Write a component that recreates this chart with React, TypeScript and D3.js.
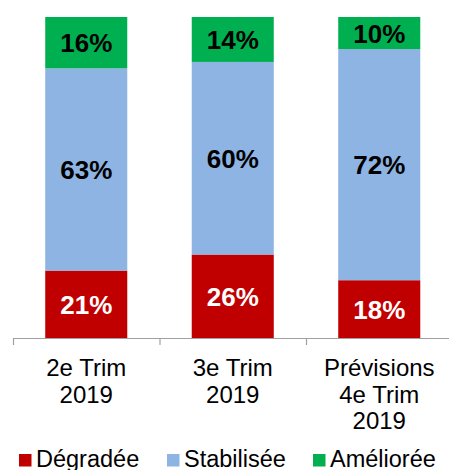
import React from "react";
import * as d3 from "d3";

const categories = [["2e Trim", "2019"], ["3e Trim", "2019"], ["Prévisions", "4e Trim", "2019"]];
const seriesNames = ["Dégradée", "Stabilisée", "Améliorée"];
const degradee = [21, 26, 18];
const stabilisee = [63, 60, 72];
const amelioree = [16, 14, 10];
const colors = ["#C00000", "#8EB4E3", "#00B050"];
const labelColors = ["#FFFFFF", "#000000", "#000000"];

const W = 449;
const H = 470;
const FONT = "'Liberation Sans', Arial, sans-serif";

export default function App() {
  const keys = categories.map((c, i) => String(i));
  const x = d3.scaleBand().domain(keys).range([13, 452.5]).paddingInner(0.44).paddingOuter(0.22);
  const y = d3.scaleLinear().domain([0, 100]).range([338, 17]);
  const rows = keys.map((k, i) => ({ key: k, d: degradee[i], s: stabilisee[i], a: amelioree[i] }));
  const stack = d3.stack<any>().keys(["d", "s", "a"])(rows);
  const step = x.step();
  const ticks = [0, 1, 2, 3].map((i) => 13 + i * step);
  const legendX = [19, 167, 313];

  return (
    <svg width={W} height={H} style={{ position: "absolute", left: 0, top: 0, fontFamily: FONT }}>
      <rect width={W} height={H} fill="#fff" />
      {stack.map((layer, li) => (
        <g key={li}>
          {layer.map((seg, i) => {
            const x0 = x(keys[i])!;
            const y0 = y(seg[1]);
            const y1 = y(seg[0]);
            return (
              <g key={i}>
                <rect x={x0} y={y0} width={x.bandwidth()} height={y1 - y0} fill={colors[li]} />
                <text
                  x={x0 + x.bandwidth() / 2}
                  y={(y0 + y1) / 2 + 9.5}
                  textAnchor="middle"
                  fontSize={26}
                  fontWeight="bold"
                  fill={labelColors[li]}
                >
                  {seg[1] - seg[0]}%
                </text>
              </g>
            );
          })}
        </g>
      ))}
      <line x1={13} x2={W} y1={338.5} y2={338.5} stroke="#A0A0A0" strokeWidth={1.2} />
      {ticks.map((t, i) => (
        <line key={i} x1={t + 0.5} x2={t + 0.5} y1={338} y2={345} stroke="#A0A0A0" strokeWidth={1.2} />
      ))}
      {categories.map((lines, i) => (
        <text key={i} x={x(keys[i])! + x.bandwidth() / 2} textAnchor="middle" fontSize={24} fill="#000">
          {lines.map((ln, j) => (
            <tspan key={j} x={x(keys[i])! + x.bandwidth() / 2} y={376 + j * 26.7}>
              {ln}
            </tspan>
          ))}
        </text>
      ))}
      {seriesNames.map((n, i) => (
        <g key={n}>
          <rect x={legendX[i]} y={454} width={12.5} height={12.5} fill={colors[i]} />
          <text x={legendX[i] + 17} y={467} fontSize={23.5} fill="#000">
            {n}
          </text>
        </g>
      ))}
    </svg>
  );
}
